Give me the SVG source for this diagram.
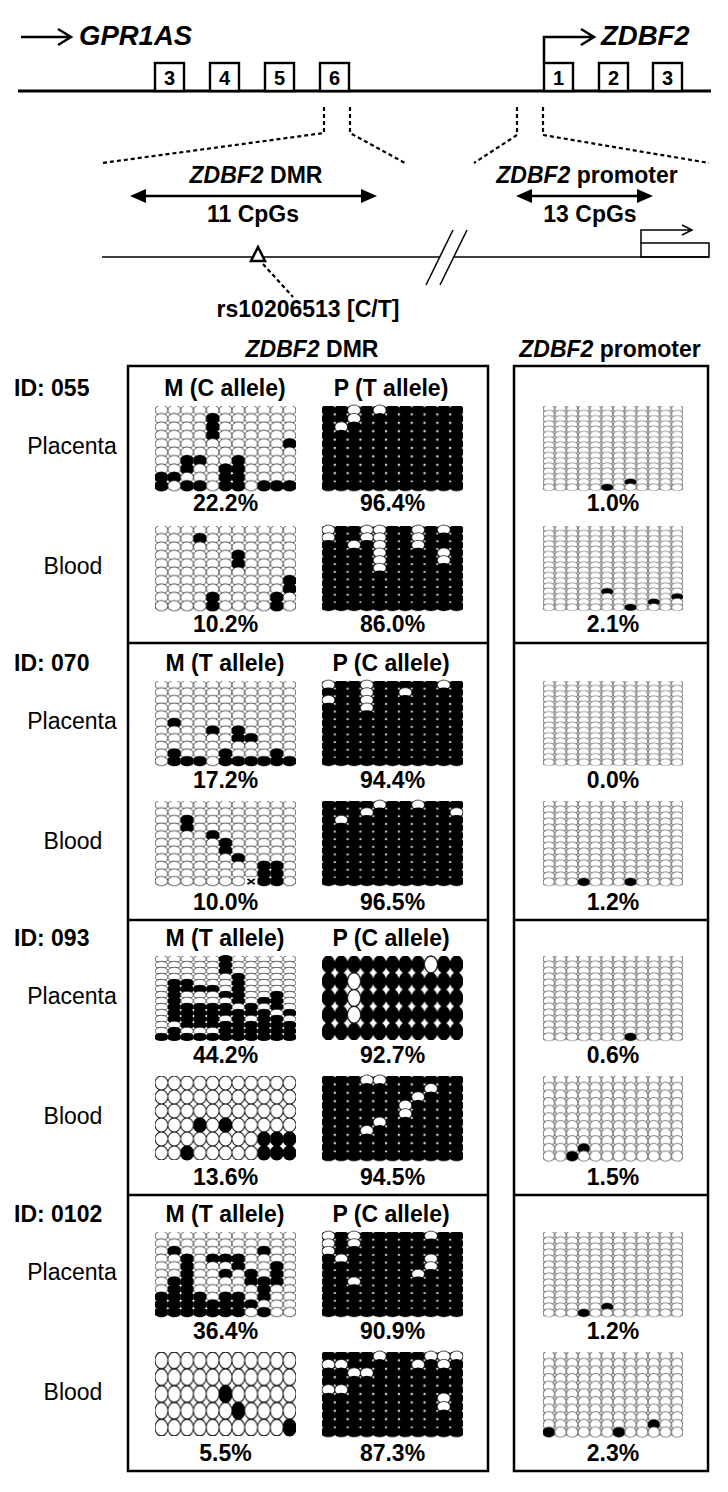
<svg xmlns="http://www.w3.org/2000/svg" xmlns:xlink="http://www.w3.org/1999/xlink" width="728" height="1492" viewBox="0 0 728 1492">
<style>
.tx{font-family:"Liberation Sans",Arial,Helvetica,sans-serif;fill:#000}
.bd{font-weight:bold}
.it{font-style:italic}
.f23{font-size:23px}
.ow{fill:#fff;stroke:#1a1a1a;stroke-width:.075}
.ob{fill:#000}
.op{fill:#fff;stroke:#7c7c7c;stroke-width:.11}
.ln{fill:none;stroke:#000;stroke-width:2.5}
.th{fill:none;stroke:#000;stroke-width:1.5}
.ds{fill:none;stroke:#000;stroke-width:2.2;stroke-dasharray:4 3}
.box{fill:none;stroke:#000;stroke-width:2.5}
.ex{fill:#fff;stroke:#000;stroke-width:2.4}
</style>
<defs>
<clipPath id="cc" clipPathUnits="userSpaceOnUse"><rect x="0" y="-1" width="1" height="3"/></clipPath>
<clipPath id="cs" clipPathUnits="userSpaceOnUse"><rect x="-.04" y="-1" width="1.08" height="3"/></clipPath>
<pattern id="dw" patternUnits="userSpaceOnUse" width="1" height="1"><ellipse class="ow" cx=".5" cy="-.5" rx=".5" ry=".62"/><ellipse class="ow" cx=".5" cy=".5" rx=".5" ry=".62"/><ellipse class="ow" cx=".5" cy="1.5" rx=".5" ry=".62"/></pattern>
<pattern id="dwL" patternUnits="userSpaceOnUse" width="1" height="1.3"><ellipse class="ow" cx=".5" cy="-.5" rx=".5" ry=".62"/><ellipse class="ow" cx=".5" cy=".5" rx=".5" ry=".62"/></pattern>
<pattern id="db" patternUnits="userSpaceOnUse" width="1" height="1"><ellipse class="ob" cx=".5" cy="-.5" rx=".58" ry=".66"/><ellipse class="ob" cx=".5" cy=".5" rx=".58" ry=".66"/><ellipse class="ob" cx=".5" cy="1.5" rx=".58" ry=".66"/></pattern>
<pattern id="dbL" patternUnits="userSpaceOnUse" width="1" height="1.3"><ellipse class="ob" cx=".5" cy="-.5" rx=".58" ry=".66"/><ellipse class="ob" cx=".5" cy=".5" rx=".58" ry=".66"/></pattern>
<pattern id="rw" patternUnits="userSpaceOnUse" width="1" height="1"><ellipse class="ow" cx=".5" cy=".5" rx=".5" ry=".5"/></pattern>
<pattern id="rb" patternUnits="userSpaceOnUse" width="1" height="1"><ellipse class="ob" cx=".5" cy=".5" rx=".53" ry=".53"/></pattern>
<pattern id="pw" patternUnits="userSpaceOnUse" width="1" height="1"><ellipse class="op" cx=".5" cy="-.5" rx=".5" ry=".68"/><ellipse class="op" cx=".5" cy=".5" rx=".5" ry=".68"/><ellipse class="op" cx=".5" cy="1.5" rx=".5" ry=".68"/></pattern>
<pattern id="pwL" patternUnits="userSpaceOnUse" width="1" height="1.4"><ellipse class="op" cx=".5" cy="-.5" rx=".5" ry=".68"/><ellipse class="op" cx=".5" cy=".5" rx=".5" ry=".68"/></pattern>
<g id="b" clip-path="url(#cc)"><ellipse class="ob" cx=".5" cy=".5" rx=".58" ry=".66"/></g>
<g id="w" clip-path="url(#cs)"><ellipse class="ow" cx=".5" cy=".5" rx=".5" ry=".62"/></g>
<g id="cw" clip-path="url(#cs)"><path class="ow" d="M0,.5A.5,.62 0 0 1 1,.5"/></g>
<g id="cb" clip-path="url(#cc)"><path class="ob" d="M-.08,.5A.58,.66 0 0 1 1.08,.5"/></g>
<g id="rk" clip-path="url(#cc)"><ellipse class="ob" cx=".5" cy=".5" rx=".53" ry=".53"/></g>
<g id="rwh" clip-path="url(#cs)"><ellipse class="ow" cx=".5" cy=".5" rx=".5" ry=".5"/></g>
<g id="pb" clip-path="url(#cc)"><ellipse class="ob" cx=".5" cy=".5" rx=".52" ry=".66"/></g>
<g id="pc" clip-path="url(#cs)"><path class="op" d="M0,.5A.5,.68 0 0 1 1,.5"/></g>
</defs>
<rect width="728" height="1492" fill="#fff"/>

<!-- ===== gene map ===== -->
<g id="gpr1as">
<path class="ln" d="M21,37H70M58,29L71,37L58,45"/>
<text class="tx bd it" x="79" y="45" font-size="27.5">GPR1AS</text>
</g>
<g id="zdbf2-tss">
<path class="ln" d="M544,63V37H593M581,29L594,37L581,45"/>
<text class="tx bd it" x="601" y="45" font-size="27.5">ZDBF2</text>
</g>
<g id="locus">
<path class="ln" style="stroke-width:3" d="M18,91H711"/>
</g>
<g id="exon-g3"><rect class="ex" x="155" y="63" width="29" height="28"/><text class="tx bd" x="169.5" y="85" font-size="20" text-anchor="middle">3</text></g>
<g id="exon-g4"><rect class="ex" x="210" y="63" width="29" height="28"/><text class="tx bd" x="224.5" y="85" font-size="20" text-anchor="middle">4</text></g>
<g id="exon-g5"><rect class="ex" x="265" y="63" width="29" height="28"/><text class="tx bd" x="279.5" y="85" font-size="20" text-anchor="middle">5</text></g>
<g id="exon-g6"><rect class="ex" x="320" y="63" width="29" height="28"/><text class="tx bd" x="334.5" y="85" font-size="20" text-anchor="middle">6</text></g>
<g id="exon-z1"><rect class="ex" x="544" y="63" width="29" height="28"/><text class="tx bd" x="558.5" y="85" font-size="20" text-anchor="middle">1</text></g>
<g id="exon-z2"><rect class="ex" x="599" y="63" width="29" height="28"/><text class="tx bd" x="613.5" y="85" font-size="20" text-anchor="middle">2</text></g>
<g id="exon-z3"><rect class="ex" x="653" y="63" width="29" height="28"/><text class="tx bd" x="667.5" y="85" font-size="20" text-anchor="middle">3</text></g>

<g id="connectors">
<path class="ds" d="M324,107V133L102,163"/>
<path class="ds" d="M350,107V133L405,163"/>
<path class="ds" d="M517,107V135L474,163"/>
<path class="ds" d="M543,107V135L709,163"/>
<path class="ln" d="M144,196H364"/>
<polygon points="130,196 146,189 146,203" fill="#000"/>
<polygon points="377,196 361,189 361,203" fill="#000"/>
<path class="ln" d="M530,196H639"/>
<polygon points="516,196 532,189 532,203" fill="#000"/>
<polygon points="653,196 637,189 637,203" fill="#000"/>
<path class="th" d="M102,257H440M454,257H709"/>
<path class="th" d="M426,285L453,230M440,285L467,230"/>
<path class="th" d="M641,243V230H691M682,225L692,230L682,235"/>
<path class="ds" d="M263,264L293,297"/>
</g>
<g id="promoter-box"><rect class="th" x="641" y="243" width="68" height="14"/></g>
<g id="snp"><polygon points="258,247 251,261 265,261" fill="#fff" stroke="#000" stroke-width="2.5"/></g>
<g id="map-labels">
<text class="tx bd f23" x="256" y="183" text-anchor="middle"><tspan class="it">ZDBF2</tspan> DMR</text>
<text class="tx bd f23" x="253" y="222" text-anchor="middle">11 CpGs</text>
<text class="tx bd f23" x="587" y="183" text-anchor="middle"><tspan class="it">ZDBF2</tspan> promoter</text>
<text class="tx bd f23" x="590" y="222" text-anchor="middle">13 CpGs</text>
<text class="tx bd f23" x="308" y="317" text-anchor="middle">rs10206513 [C/T]</text>
</g>

<!-- ===== panel frames ===== -->
<g id="frames">
<text class="tx bd f23" x="312" y="357" text-anchor="middle"><tspan class="it">ZDBF2</tspan> DMR</text>
<text class="tx bd f23" x="610" y="357" text-anchor="middle"><tspan class="it">ZDBF2</tspan> promoter</text>
<rect class="box" x="128" y="366" width="360" height="1105"/>
<rect class="box" x="514" y="366" width="194" height="1105"/>
<path class="box" d="M128,643H488M128,920H488M128,1195H488M514,643H708M514,920H708M514,1195H708"/>
</g>

<!-- ===== row labels ===== -->
<g id="labels">
<text class="tx bd f23" x="14" y="396">ID: 055</text>
<text class="tx bd f23" x="14" y="671">ID: 070</text>
<text class="tx bd f23" x="14" y="946">ID: 093</text>
<text class="tx bd f23" x="14" y="1222">ID: 0102</text>
<text class="tx f23" x="72" y="454" text-anchor="middle">Placenta</text>
<text class="tx f23" x="73" y="574" text-anchor="middle">Blood</text>
<text class="tx f23" x="72" y="729" text-anchor="middle">Placenta</text>
<text class="tx f23" x="73" y="849" text-anchor="middle">Blood</text>
<text class="tx f23" x="72" y="1004" text-anchor="middle">Placenta</text>
<text class="tx f23" x="73" y="1124" text-anchor="middle">Blood</text>
<text class="tx f23" x="72" y="1280" text-anchor="middle">Placenta</text>
<text class="tx f23" x="73" y="1400" text-anchor="middle">Blood</text>
<text class="tx bd f23" x="225" y="396" text-anchor="middle">M (C allele)</text>
<text class="tx bd f23" x="391" y="396" text-anchor="middle">P (T allele)</text>
<text class="tx bd f23" x="225" y="671" text-anchor="middle">M (T allele)</text>
<text class="tx bd f23" x="391" y="671" text-anchor="middle">P (C allele)</text>
<text class="tx bd f23" x="225" y="946" text-anchor="middle">M (T allele)</text>
<text class="tx bd f23" x="391" y="946" text-anchor="middle">P (C allele)</text>
<text class="tx bd f23" x="225" y="1222" text-anchor="middle">M (T allele)</text>
<text class="tx bd f23" x="391" y="1222" text-anchor="middle">P (C allele)</text>
</g>
<g id="percent">
<text class="tx bd f23" x="225.5" y="511" text-anchor="middle">22.2%</text>
<text class="tx bd f23" x="392.5" y="511" text-anchor="middle">96.4%</text>
<text class="tx bd f23" x="613" y="511" text-anchor="middle">1.0%</text>
<text class="tx bd f23" x="225.5" y="632" text-anchor="middle">10.2%</text>
<text class="tx bd f23" x="392.5" y="632" text-anchor="middle">86.0%</text>
<text class="tx bd f23" x="613" y="632" text-anchor="middle">2.1%</text>
<text class="tx bd f23" x="225.5" y="788" text-anchor="middle">17.2%</text>
<text class="tx bd f23" x="392.5" y="788" text-anchor="middle">94.4%</text>
<text class="tx bd f23" x="613" y="788" text-anchor="middle">0.0%</text>
<text class="tx bd f23" x="225.5" y="910" text-anchor="middle">10.0%</text>
<text class="tx bd f23" x="392.5" y="910" text-anchor="middle">96.5%</text>
<text class="tx bd f23" x="613" y="910" text-anchor="middle">1.2%</text>
<text class="tx bd f23" x="225.5" y="1063" text-anchor="middle">44.2%</text>
<text class="tx bd f23" x="392.5" y="1063" text-anchor="middle">92.7%</text>
<text class="tx bd f23" x="613" y="1063" text-anchor="middle">0.6%</text>
<text class="tx bd f23" x="225.5" y="1185" text-anchor="middle">13.6%</text>
<text class="tx bd f23" x="392.5" y="1185" text-anchor="middle">94.5%</text>
<text class="tx bd f23" x="613" y="1185" text-anchor="middle">1.5%</text>
<text class="tx bd f23" x="225.5" y="1339" text-anchor="middle">36.4%</text>
<text class="tx bd f23" x="392.5" y="1339" text-anchor="middle">90.9%</text>
<text class="tx bd f23" x="613" y="1339" text-anchor="middle">1.2%</text>
<text class="tx bd f23" x="225.5" y="1461" text-anchor="middle">5.5%</text>
<text class="tx bd f23" x="392.5" y="1461" text-anchor="middle">87.3%</text>
<text class="tx bd f23" x="613" y="1461" text-anchor="middle">2.3%</text>
</g>

<!-- ===== DMR grids ===== -->
<g id="dmr055-M-placenta" transform="translate(155,406) scale(12.818,8.4)">
<rect width="11" height="10" fill="url(#dw)"/><g transform="translate(0,9)"><rect width="11" height="1.2" fill="url(#dwL)"/></g>
<use href="#b" x="0" y="8"/><use href="#b" x="0" y="9"/>
<use href="#b" x="1" y="8"/><use href="#cw" x="1" y="9"/>
<use href="#b" x="2" y="6"/><use href="#b" x="2" y="7"/><use href="#cw" x="2" y="8"/><use href="#b" x="2" y="9"/>
<use href="#b" x="3" y="6"/><use href="#cw" x="3" y="7"/><use href="#b" x="3" y="9"/>
<use href="#b" x="4" y="1"/><use href="#b" x="4" y="2"/><use href="#b" x="4" y="3"/><use href="#cw" x="4" y="4"/>
<use href="#b" x="5" y="7"/><use href="#b" x="5" y="8"/><use href="#b" x="5" y="9"/>
<use href="#b" x="6" y="6"/><use href="#b" x="6" y="7"/><use href="#b" x="6" y="8"/><use href="#b" x="6" y="9"/>
<use href="#b" x="8" y="9"/><use href="#b" x="9" y="9"/>
<use href="#b" x="10" y="4"/><use href="#cw" x="10" y="5"/><use href="#b" x="10" y="9"/>
</g>
<g id="dmr055-P-placenta" transform="translate(322,406) scale(12.818,8.4)">
<rect width="11" height="10" fill="url(#db)"/><g transform="translate(0,9)"><rect width="11" height="1.2" fill="url(#dbL)"/></g>
<use href="#w" x="1" y="2"/><use href="#cb" x="1" y="3"/>
<use href="#w" x="2" y="0"/><use href="#w" x="2" y="1"/><use href="#cb" x="2" y="2"/>
<use href="#w" x="4" y="0"/><use href="#cb" x="4" y="1"/>
</g>
<g id="dmr055-M-blood" transform="translate(155,526) scale(12.818,8.4)">
<rect width="11" height="10" fill="url(#dw)"/><g transform="translate(0,9)"><rect width="11" height="1.2" fill="url(#dwL)"/></g>
<use href="#b" x="3" y="1"/><use href="#cw" x="3" y="2"/>
<use href="#b" x="4" y="8"/><use href="#b" x="4" y="9"/>
<use href="#b" x="6" y="3"/><use href="#b" x="6" y="4"/><use href="#cw" x="6" y="5"/>
<use href="#b" x="9" y="8"/><use href="#b" x="9" y="9"/>
<use href="#b" x="10" y="6"/><use href="#b" x="10" y="7"/><use href="#cw" x="10" y="8"/>
</g>
<g id="dmr055-P-blood" transform="translate(322,526) scale(12.818,7.636)">
<rect width="11" height="11" fill="url(#db)"/><g transform="translate(0,10)"><rect width="11" height="1.2" fill="url(#dbL)"/></g>
<use href="#w" x="0" y="0"/><use href="#w" x="0" y="1"/><use href="#cb" x="0" y="2"/>
<use href="#w" x="2" y="2"/><use href="#cb" x="2" y="3"/>
<use href="#w" x="3" y="0"/><use href="#w" x="3" y="1"/><use href="#cb" x="3" y="2"/>
<use href="#w" x="4" y="0"/><use href="#w" x="4" y="1"/><use href="#w" x="4" y="2"/><use href="#w" x="4" y="3"/><use href="#w" x="4" y="4"/><use href="#w" x="4" y="5"/><use href="#cb" x="4" y="6"/>
<use href="#w" x="7" y="0"/><use href="#w" x="7" y="1"/><use href="#w" x="7" y="2"/><use href="#cb" x="7" y="3"/>
<use href="#w" x="9" y="0"/><use href="#cb" x="9" y="1"/><use href="#w" x="9" y="3"/><use href="#w" x="9" y="4"/><use href="#cb" x="9" y="5"/>
</g>

<g id="dmr070-M-placenta" transform="translate(155,681) scale(12.818,7.636)">
<rect width="11" height="11" fill="url(#dw)"/><g transform="translate(0,10)"><rect width="11" height="1.2" fill="url(#dwL)"/></g>
<use href="#b" x="1" y="5"/><use href="#cw" x="1" y="6"/><use href="#b" x="1" y="9"/><use href="#b" x="1" y="10"/>
<use href="#b" x="2" y="10"/><use href="#b" x="3" y="10"/>
<use href="#b" x="4" y="6"/><use href="#cw" x="4" y="7"/>
<use href="#b" x="5" y="9"/><use href="#b" x="5" y="10"/>
<use href="#b" x="6" y="6"/><use href="#b" x="6" y="7"/><use href="#cw" x="6" y="8"/><use href="#b" x="6" y="10"/>
<use href="#b" x="7" y="7"/><use href="#cw" x="7" y="8"/><use href="#b" x="7" y="10"/>
<use href="#b" x="8" y="10"/>
<use href="#b" x="9" y="9"/><use href="#b" x="9" y="10"/>
<use href="#b" x="10" y="10"/>
</g>
<g id="dmr070-P-placenta" transform="translate(322,681) scale(12.818,7.636)">
<rect width="11" height="11" fill="url(#db)"/><g transform="translate(0,10)"><rect width="11" height="1.2" fill="url(#dbL)"/></g>
<use href="#w" x="0" y="0"/><use href="#cb" x="0" y="1"/><use href="#w" x="0" y="2"/><use href="#cb" x="0" y="3"/>
<use href="#w" x="3" y="0"/><use href="#w" x="3" y="1"/><use href="#w" x="3" y="2"/><use href="#w" x="3" y="3"/><use href="#cb" x="3" y="4"/>
<use href="#w" x="6" y="1"/><use href="#cb" x="6" y="2"/>
<use href="#w" x="9" y="0"/><use href="#cb" x="9" y="1"/>
</g>
<g id="dmr070-M-blood" transform="translate(155,801) scale(12.818,7.636)">
<rect width="11" height="11" fill="url(#dw)"/><g transform="translate(0,10)"><rect width="11" height="1.2" fill="url(#dwL)"/></g>
<use href="#b" x="2" y="2"/><use href="#b" x="2" y="3"/><use href="#cw" x="2" y="4"/>
<use href="#b" x="4" y="4"/><use href="#cw" x="4" y="5"/>
<use href="#b" x="5" y="5"/><use href="#b" x="5" y="6"/><use href="#cw" x="5" y="7"/>
<use href="#b" x="6" y="7"/><use href="#cw" x="6" y="8"/>
<rect x="7" y="10" width="1" height="1.2" fill="#fff"/><path d="M7.22,10.2L7.78,10.9M7.78,10.2L7.22,10.9" fill="none" stroke="#000" stroke-width=".17"/>
<use href="#b" x="8" y="8"/><use href="#b" x="8" y="9"/><use href="#b" x="8" y="10"/>
<use href="#b" x="9" y="8"/><use href="#b" x="9" y="9"/><use href="#b" x="9" y="10"/>
</g>
<g id="dmr070-P-blood" transform="translate(322,801) scale(12.818,7.636)">
<rect width="11" height="11" fill="url(#db)"/><g transform="translate(0,10)"><rect width="11" height="1.2" fill="url(#dbL)"/></g>
<use href="#w" x="1" y="2"/><use href="#cb" x="1" y="3"/>
<use href="#w" x="3" y="1"/><use href="#cb" x="3" y="2"/>
<use href="#w" x="4" y="0"/><use href="#cb" x="4" y="1"/>
<use href="#w" x="7" y="0"/><use href="#cb" x="7" y="1"/>
<use href="#w" x="10" y="1"/><use href="#cb" x="10" y="2"/>
</g>

<g id="dmr093-M-placenta" transform="translate(155,956) scale(12.818,6)">
<rect width="11" height="14" fill="url(#dw)"/><g transform="translate(0,13)"><rect width="11" height="1.2" fill="url(#dwL)"/></g>
<use href="#b" x="0" y="13"/>
<use href="#b" x="1" y="4"/><use href="#b" x="1" y="5"/><use href="#b" x="1" y="6"/><use href="#b" x="1" y="7"/><use href="#b" x="1" y="8"/><use href="#b" x="1" y="9"/><use href="#b" x="1" y="10"/><use href="#cw" x="1" y="11"/><use href="#b" x="1" y="12"/><use href="#b" x="1" y="13"/>
<use href="#b" x="2" y="4"/><use href="#b" x="2" y="5"/><use href="#cw" x="2" y="6"/><use href="#b" x="2" y="8"/><use href="#b" x="2" y="9"/><use href="#b" x="2" y="10"/><use href="#b" x="2" y="11"/><use href="#cw" x="2" y="12"/><use href="#b" x="2" y="13"/>
<use href="#b" x="3" y="5"/><use href="#cw" x="3" y="6"/><use href="#b" x="3" y="8"/><use href="#b" x="3" y="9"/><use href="#b" x="3" y="10"/><use href="#b" x="3" y="11"/><use href="#cw" x="3" y="12"/><use href="#b" x="3" y="13"/>
<use href="#b" x="4" y="5"/><use href="#cw" x="4" y="6"/><use href="#b" x="4" y="8"/><use href="#b" x="4" y="9"/><use href="#b" x="4" y="10"/><use href="#b" x="4" y="11"/><use href="#cw" x="4" y="12"/><use href="#b" x="4" y="13"/>
<use href="#b" x="5" y="0"/><use href="#b" x="5" y="1"/><use href="#b" x="5" y="2"/><use href="#cw" x="5" y="3"/><use href="#b" x="5" y="6"/><use href="#cw" x="5" y="7"/><use href="#b" x="5" y="8"/><use href="#b" x="5" y="9"/><use href="#cw" x="5" y="10"/><use href="#b" x="5" y="11"/><use href="#b" x="5" y="12"/><use href="#b" x="5" y="13"/>
<use href="#b" x="6" y="3"/><use href="#b" x="6" y="4"/><use href="#b" x="6" y="5"/><use href="#b" x="6" y="6"/><use href="#b" x="6" y="7"/><use href="#cw" x="6" y="8"/><use href="#b" x="6" y="9"/><use href="#b" x="6" y="10"/><use href="#b" x="6" y="11"/><use href="#b" x="6" y="12"/><use href="#b" x="6" y="13"/>
<use href="#b" x="7" y="8"/><use href="#b" x="7" y="9"/><use href="#cw" x="7" y="10"/><use href="#b" x="7" y="11"/><use href="#b" x="7" y="12"/><use href="#b" x="7" y="13"/>
<use href="#b" x="8" y="7"/><use href="#cw" x="8" y="8"/><use href="#b" x="8" y="9"/><use href="#b" x="8" y="10"/><use href="#b" x="8" y="11"/><use href="#b" x="8" y="12"/><use href="#b" x="8" y="13"/>
<use href="#b" x="9" y="6"/><use href="#b" x="9" y="7"/><use href="#b" x="9" y="8"/><use href="#cw" x="9" y="9"/><use href="#b" x="9" y="10"/><use href="#b" x="9" y="11"/><use href="#b" x="9" y="12"/><use href="#b" x="9" y="13"/>
<use href="#b" x="10" y="9"/><use href="#cw" x="10" y="10"/><use href="#b" x="10" y="11"/><use href="#b" x="10" y="12"/><use href="#b" x="10" y="13"/>
</g>
<g id="dmr093-P-placenta" transform="translate(322,956) scale(12.818,16.8)">
<rect width="11" height="5" fill="url(#rb)"/>
<use href="#rwh" x="2" y="1"/><use href="#rwh" x="2" y="2"/><use href="#rwh" x="2" y="3"/><use href="#rwh" x="8" y="0"/>
</g>
<g id="dmr093-M-blood" transform="translate(155,1076) scale(12.818,14)">
<rect width="11" height="6" fill="url(#rw)"/>
<use href="#rk" x="3" y="3"/><use href="#rk" x="5" y="3"/><use href="#rk" x="2" y="5"/>
<use href="#rk" x="8" y="4"/><use href="#rk" x="9" y="4"/><use href="#rk" x="10" y="4"/>
<use href="#rk" x="8" y="5"/><use href="#rk" x="9" y="5"/><use href="#rk" x="10" y="5"/>
</g>
<g id="dmr093-P-blood" transform="translate(322,1076) scale(12.818,8.4)">
<rect width="11" height="10" fill="url(#db)"/><g transform="translate(0,9)"><rect width="11" height="1.2" fill="url(#dbL)"/></g>
<use href="#w" x="3" y="0"/><use href="#cb" x="3" y="1"/><use href="#w" x="3" y="6"/><use href="#cb" x="3" y="7"/>
<use href="#w" x="4" y="0"/><use href="#cb" x="4" y="1"/><use href="#w" x="4" y="5"/><use href="#cb" x="4" y="6"/>
<use href="#w" x="6" y="3"/><use href="#w" x="6" y="4"/><use href="#cb" x="6" y="5"/>
<use href="#w" x="7" y="2"/><use href="#cb" x="7" y="3"/>
<use href="#w" x="8" y="1"/><use href="#cb" x="8" y="2"/>
</g>

<g id="dmr0102-M-placenta" transform="translate(155,1232) scale(12.818,7.636)">
<rect width="11" height="11" fill="url(#dw)"/><g transform="translate(0,10)"><rect width="11" height="1.2" fill="url(#dwL)"/></g>
<use href="#b" x="0" y="8"/><use href="#b" x="0" y="9"/><use href="#b" x="0" y="10"/>
<use href="#b" x="1" y="2"/><use href="#cw" x="1" y="3"/><use href="#b" x="1" y="6"/><use href="#b" x="1" y="7"/><use href="#b" x="1" y="8"/><use href="#b" x="1" y="9"/><use href="#b" x="1" y="10"/>
<use href="#b" x="2" y="3"/><use href="#b" x="2" y="4"/><use href="#b" x="2" y="5"/><use href="#b" x="2" y="6"/><use href="#b" x="2" y="7"/><use href="#b" x="2" y="8"/><use href="#b" x="2" y="9"/><use href="#b" x="2" y="10"/>
<use href="#b" x="3" y="8"/><use href="#b" x="3" y="9"/><use href="#b" x="3" y="10"/>
<use href="#b" x="4" y="3"/><use href="#cw" x="4" y="4"/><use href="#b" x="4" y="9"/><use href="#b" x="4" y="10"/>
<use href="#b" x="5" y="3"/><use href="#cw" x="5" y="4"/><use href="#b" x="5" y="5"/><use href="#cw" x="5" y="6"/><use href="#b" x="5" y="8"/><use href="#b" x="5" y="9"/><use href="#b" x="5" y="10"/>
<use href="#b" x="6" y="3"/><use href="#b" x="6" y="4"/><use href="#cw" x="6" y="5"/><use href="#b" x="6" y="8"/><use href="#b" x="6" y="9"/><use href="#b" x="6" y="10"/>
<use href="#b" x="7" y="5"/><use href="#b" x="7" y="6"/><use href="#cw" x="7" y="7"/><use href="#b" x="7" y="9"/><use href="#cw" x="7" y="10"/>
<use href="#b" x="8" y="2"/><use href="#cw" x="8" y="3"/><use href="#b" x="8" y="6"/><use href="#b" x="8" y="7"/><use href="#b" x="8" y="8"/><use href="#cw" x="8" y="9"/><use href="#b" x="8" y="10"/>
<use href="#b" x="9" y="4"/><use href="#b" x="9" y="5"/><use href="#b" x="9" y="6"/><use href="#cw" x="9" y="7"/>
</g>
<g id="dmr0102-P-placenta" transform="translate(322,1232) scale(12.818,7.636)">
<rect width="11" height="11" fill="url(#db)"/><g transform="translate(0,10)"><rect width="11" height="1.2" fill="url(#dbL)"/></g>
<use href="#w" x="0" y="0"/><use href="#w" x="0" y="1"/><use href="#w" x="0" y="2"/><use href="#cb" x="0" y="3"/>
<use href="#w" x="1" y="3"/><use href="#cb" x="1" y="4"/>
<use href="#w" x="2" y="0"/><use href="#w" x="2" y="1"/><use href="#cb" x="2" y="2"/><use href="#w" x="2" y="6"/><use href="#cb" x="2" y="7"/>
<use href="#w" x="7" y="5"/><use href="#cb" x="7" y="6"/>
<use href="#w" x="8" y="0"/><use href="#cb" x="8" y="1"/><use href="#w" x="8" y="3"/><use href="#w" x="8" y="4"/><use href="#cb" x="8" y="5"/>
</g>
<g id="dmr0102-M-blood" transform="translate(155,1352) scale(12.818,16.8)">
<rect width="11" height="5" fill="url(#rw)"/>
<use href="#rk" x="5" y="2"/><use href="#rk" x="6" y="3"/><use href="#rk" x="10" y="4"/>
</g>
<g id="dmr0102-P-blood" transform="translate(322,1352) scale(12.818,8.4)">
<rect width="11" height="10" fill="url(#db)"/><g transform="translate(0,9)"><rect width="11" height="1.2" fill="url(#dbL)"/></g>
<use href="#w" x="0" y="1"/><use href="#cb" x="0" y="2"/><use href="#w" x="0" y="4"/><use href="#cb" x="0" y="5"/>
<use href="#w" x="1" y="1"/><use href="#cb" x="1" y="2"/><use href="#w" x="1" y="4"/><use href="#cb" x="1" y="5"/>
<use href="#w" x="2" y="2"/><use href="#cb" x="2" y="3"/>
<use href="#w" x="3" y="2"/><use href="#cb" x="3" y="3"/>
<use href="#w" x="4" y="0"/><use href="#cb" x="4" y="1"/>
<use href="#w" x="7" y="1"/><use href="#cb" x="7" y="2"/>
<use href="#w" x="8" y="0"/><use href="#cb" x="8" y="1"/>
<use href="#w" x="9" y="0"/><use href="#w" x="9" y="1"/><use href="#cb" x="9" y="2"/><use href="#w" x="9" y="5"/><use href="#w" x="9" y="6"/><use href="#cb" x="9" y="7"/>
<use href="#w" x="10" y="0"/><use href="#cb" x="10" y="1"/>
</g>

<!-- ===== promoter grids ===== -->
<g id="prom055-placenta" transform="translate(543,406) scale(11.667,5.25)">
<rect width="12" height="16" fill="url(#pw)"/><g transform="translate(0,15)"><rect width="12" height="1.25" fill="url(#pwL)"/></g>
<use href="#pb" x="5" y="15"/><use href="#pb" x="7" y="14"/><use href="#pc" x="7" y="15"/>
</g>
<g id="prom055-blood" transform="translate(543,526) scale(11.667,5.25)">
<rect width="12" height="16" fill="url(#pw)"/><g transform="translate(0,15)"><rect width="12" height="1.25" fill="url(#pwL)"/></g>
<use href="#pb" x="5" y="12"/><use href="#pc" x="5" y="13"/><use href="#pb" x="7" y="15"/><use href="#pb" x="9" y="14"/><use href="#pc" x="9" y="15"/><use href="#pb" x="11" y="13"/><use href="#pc" x="11" y="14"/>
</g>
<g id="prom070-placenta" transform="translate(543,681) scale(11.667,5.25)">
<rect width="12" height="16" fill="url(#pw)"/><g transform="translate(0,15)"><rect width="12" height="1.25" fill="url(#pwL)"/></g>
</g>
<g id="prom070-blood" transform="translate(543,801) scale(11.667,6)">
<rect width="12" height="14" fill="url(#pw)"/><g transform="translate(0,13)"><rect width="12" height="1.25" fill="url(#pwL)"/></g>
<use href="#pb" x="3" y="13"/><use href="#pb" x="7" y="13"/>
</g>
<g id="prom093-placenta" transform="translate(543,956) scale(11.667,6)">
<rect width="12" height="14" fill="url(#pw)"/><g transform="translate(0,13)"><rect width="12" height="1.25" fill="url(#pwL)"/></g>
<use href="#pb" x="7" y="13"/>
</g>
<g id="prom093-blood" transform="translate(543,1076) scale(11.667,7.636)">
<rect width="12" height="11" fill="url(#pw)"/><g transform="translate(0,10)"><rect width="12" height="1.25" fill="url(#pwL)"/></g>
<use href="#pb" x="2" y="10"/><use href="#pb" x="3" y="9"/><use href="#pc" x="3" y="10"/>
</g>
<g id="prom0102-placenta" transform="translate(543,1232) scale(11.667,6)">
<rect width="12" height="14" fill="url(#pw)"/><g transform="translate(0,13)"><rect width="12" height="1.25" fill="url(#pwL)"/></g>
<use href="#pb" x="3" y="13"/><use href="#pb" x="5" y="12"/><use href="#pc" x="5" y="13"/>
</g>
<g id="prom0102-blood" transform="translate(543,1352) scale(11.667,7.636)">
<rect width="12" height="11" fill="url(#pw)"/><g transform="translate(0,10)"><rect width="12" height="1.25" fill="url(#pwL)"/></g>
<use href="#pb" x="0" y="10"/><use href="#pb" x="6" y="10"/><use href="#pb" x="9" y="9"/><use href="#pc" x="9" y="10"/>
</g>
</svg>
